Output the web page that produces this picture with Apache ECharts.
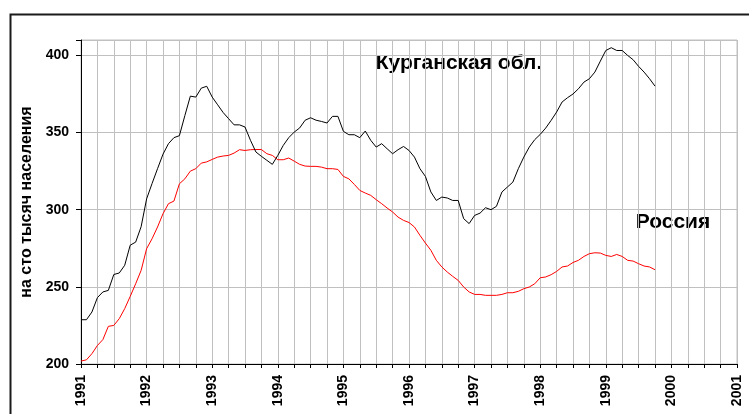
<!DOCTYPE html>
<html>
<head>
<meta charset="utf-8">
<script src="https://cdn.jsdelivr.net/npm/echarts@6/dist/echarts.min.js"></script>
<style>
  html, body { margin: 0; padding: 0; background: #fff; }
  #chart { width: 749px; height: 414px; }
</style>
</head>
<body>
<div id="chart"></div>
<script>
// Year tick labels along the bottom axis (one every 12 months)
var years = ['1991', '1992', '1993', '1994', '1995', '1996', '1997', '1998', '1999', '2000', '2001'];

// Monthly values, per 100 000 population, Jan 1991 – Oct 1999
var kurgan = [
  228.7, 228.7, 233.7, 243.0, 246.7, 247.7, 258.0, 259.0, 264.0, 277.0, 279.0, 289.0,
  307.0, 317.0, 326.6, 336.0, 342.8, 346.7, 348.0, 361.0, 373.6, 373.0, 378.8, 380.0,
  373.0, 368.0, 363.0, 359.0, 355.0, 355.0, 353.6, 345.0, 337.4, 334.6, 332.0, 329.4,
  335.2, 341.7, 346.7, 350.3, 353.0, 358.0, 359.6, 358.0, 357.2, 356.2, 360.5, 360.5,
  350.8, 348.6, 348.6, 346.7, 351.0, 345.0, 340.6, 342.8, 339.5, 336.3, 338.9, 341.0,
  338.4, 334.1, 326.6, 321.6, 311.5, 306.0, 308.2, 307.6, 306.0, 306.0, 294.2, 291.0,
  296.3, 297.8, 301.3, 300.0, 302.2, 311.5, 314.7, 317.9, 326.6, 334.1, 340.6, 345.4,
  348.8, 352.9, 357.9, 363.3, 369.8, 372.6, 375.0, 378.4, 382.7, 384.9, 389.2, 396.3,
  403.2, 405.0, 403.2, 403.2, 400.0, 397.2, 392.9, 389.2, 384.9, 380.1
];
var russia = [
  201.9, 202.7, 206.7, 212.0, 215.8, 224.4, 225.0, 229.4, 235.9, 243.8, 252.0, 260.7,
  274.7, 281.2, 288.8, 297.4, 303.9, 305.6, 316.8, 320.0, 325.0, 326.6, 330.2, 331.0,
  332.6, 334.1, 334.8, 335.2, 336.7, 338.9, 338.4, 338.9, 339.0, 339.0, 336.3, 335.2,
  332.4, 332.4, 333.5, 331.5, 329.4, 328.3, 328.1, 328.1, 327.6, 326.6, 326.6, 326.1,
  321.6, 320.0, 316.4, 312.5, 310.8, 309.3, 306.5, 303.9, 301.1, 298.5, 295.2, 293.1,
  291.7, 288.8, 283.4, 278.4, 273.7, 267.2, 262.9, 259.6, 256.8, 254.2, 249.9, 246.7,
  245.1, 245.1, 244.5, 244.5, 244.5, 245.1, 246.2, 246.2, 247.1, 248.8, 249.9, 252.0,
  255.9, 256.4, 257.9, 260.0, 262.9, 263.5, 265.8, 267.2, 269.7, 271.5, 272.1, 271.9,
  270.4, 269.7, 271.0, 269.7, 267.2, 266.7, 265.0, 263.5, 262.9, 261.1
];

var seriesNames = ['Курганская обл.', 'Россия'];
var yTitle = 'на сто тысяч населения';

// Month categories: 12 per year, ending on the first month of the last year
var months = [];
years.forEach(function (y, k) {
  var last = (k === years.length - 1) ? 1 : 12;
  for (var m = 1; m <= last; m++) {
    months.push(y + '-' + (m < 10 ? '0' + m : m));
  }
});

var FONT = 'Arial, "Liberation Sans", sans-serif';
var GRID = '#c0c0c0';

var chart = echarts.init(document.getElementById('chart'), null, { renderer: 'canvas' });
chart.setOption({
  animation: false,
  backgroundColor: '#fff',
  grid: { left: 81, right: 12, top: 40, bottom: 50, show: true, borderColor: GRID, borderWidth: 1 },
  xAxis: {
    type: 'category',
    data: months,
    boundaryGap: false,
    axisLine: { lineStyle: { color: '#000', width: 1 } },
    axisTick: { show: true, interval: 2, length: 4, lineStyle: { color: '#000' } },
    splitLine: { show: true, interval: 2, lineStyle: { color: GRID, width: 1 } },
    axisLabel: {
      interval: 11,
      rotate: 90,
      margin: 11,
      color: '#000',
      fontFamily: FONT,
      fontWeight: 'bold',
      fontSize: 14,
      formatter: function (v) { return v.slice(0, 4); }
    }
  },
  yAxis: {
    type: 'value',
    min: 200,
    max: 410,
    interval: 50,
    name: yTitle,
    nameLocation: 'middle',
    nameRotate: 90,
    nameGap: 42,
    nameTextStyle: { color: '#000', fontFamily: FONT, fontWeight: 'bold', fontSize: 16 },
    axisLine: { show: true, lineStyle: { color: '#000', width: 1 } },
    axisTick: { show: true, length: 5, lineStyle: { color: '#000' } },
    splitLine: { show: true, lineStyle: { color: GRID, width: 1 } },
    axisLabel: {
      margin: 12,
      color: '#000',
      fontFamily: FONT,
      fontWeight: 'bold',
      fontSize: 14,
      formatter: function (v) { return v % 50 === 0 ? String(v) : ''; }
    }
  },
  series: [
    {
      name: seriesNames[0],
      type: 'line',
      data: kurgan,
      showSymbol: false,
      lineStyle: { color: '#000', width: 1 },
      z: 3
    },
    {
      name: seriesNames[1],
      type: 'line',
      data: russia,
      showSymbol: false,
      lineStyle: { color: '#ff0000', width: 1 },
      z: 2
    }
  ],
  graphic: [
    {
      type: 'rect',
      left: 8, top: 12,
      shape: { width: 800, height: 500 },
      style: { fill: 'none', stroke: '#1a1a1a', lineWidth: 2 },
      silent: true
    },
    {
      type: 'group',
      left: 357, top: 50,
      children: [
        { type: 'rect', shape: { x: 0, y: 0, width: 206, height: 28 }, style: { fill: '#fff' } },
        {
          type: 'text', x: 102, y: 13,
          style: { text: seriesNames[0], fill: '#000', font: 'bold 21px ' + FONT, align: 'center', verticalAlign: 'middle' }
        }
      ]
    },
    {
      type: 'group',
      left: 623, top: 207,
      children: [
        { type: 'rect', shape: { x: 0, y: 0, width: 100, height: 30 }, style: { fill: '#fff' } },
        {
          type: 'text', x: 50, y: 15,
          style: { text: seriesNames[1], fill: '#000', font: 'bold 21px ' + FONT, align: 'center', verticalAlign: 'middle' }
        }
      ]
    }
  ]
});
</script>
</body>
</html>
